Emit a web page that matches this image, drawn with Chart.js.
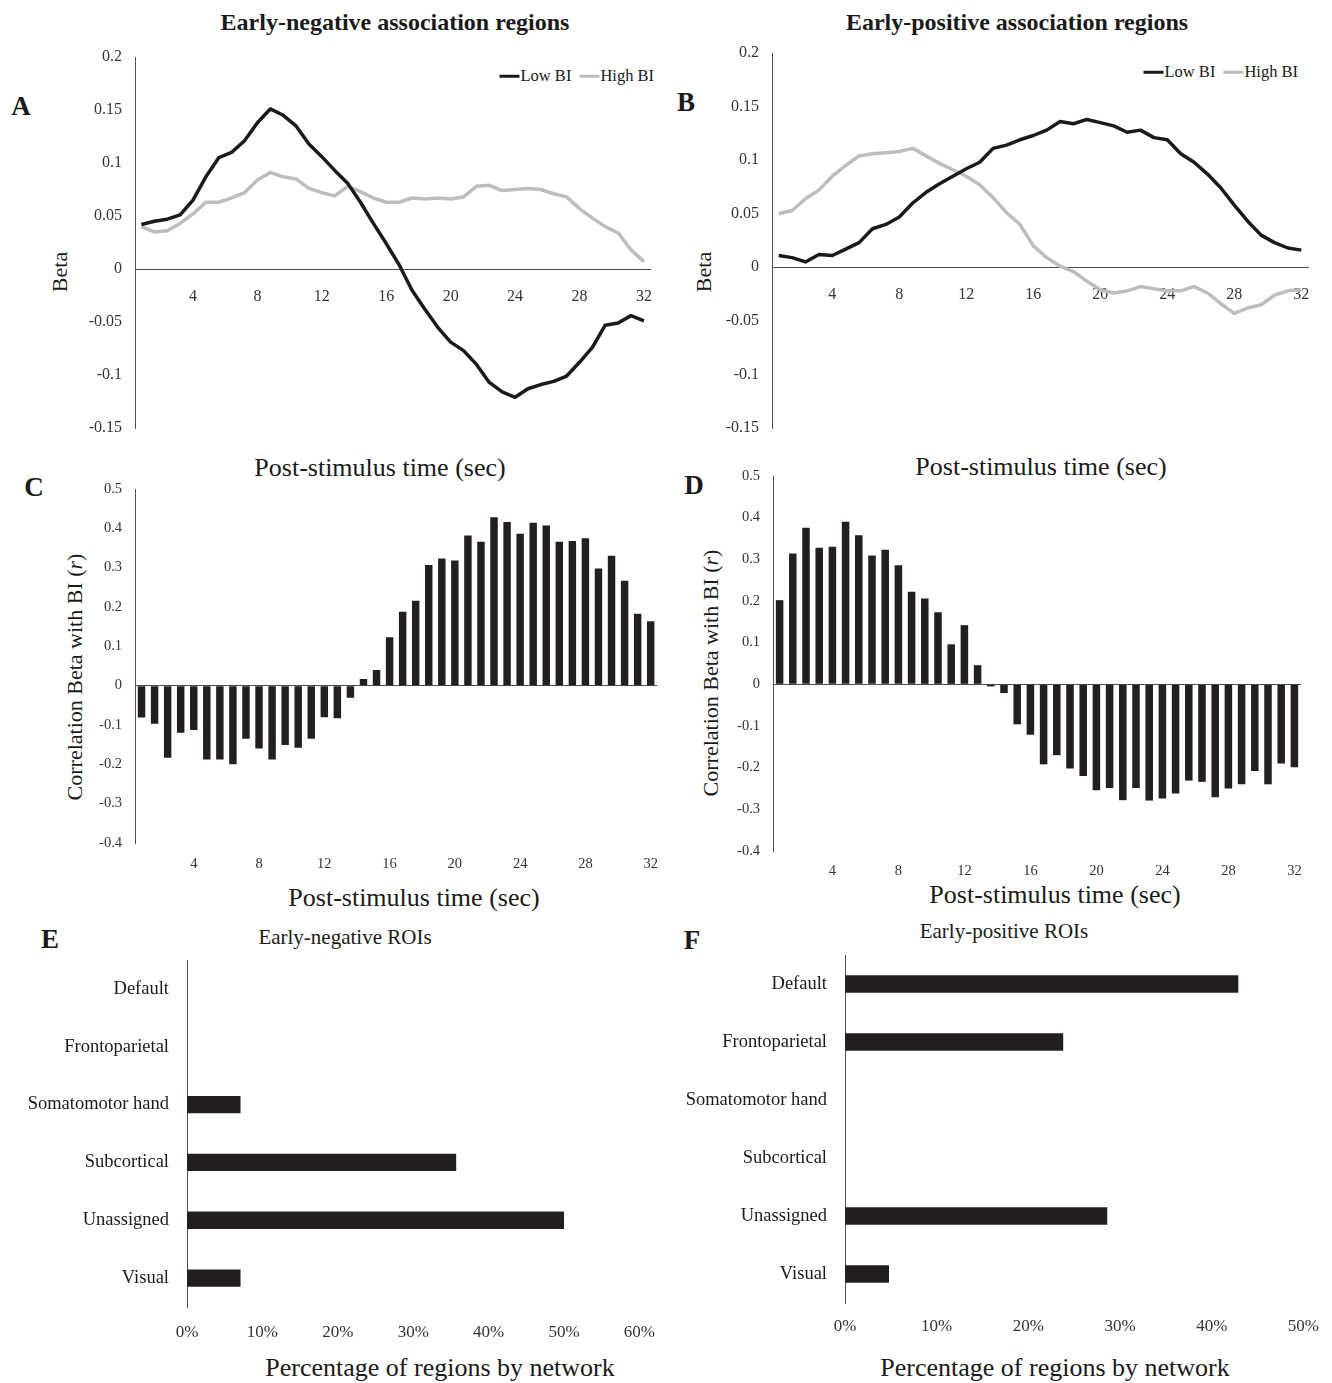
<!DOCTYPE html>
<html>
<head>
<meta charset="utf-8">
<script src="https://cdn.jsdelivr.net/npm/chart.js@4.4.1/dist/chart.umd.min.js"></script>
<style>
body { margin: 0; background: #fff; width: 1332px; height: 1383px; position: relative; overflow: hidden;
       font-family: "Liberation Serif", serif; color: #1a1a1a; }
canvas { position: absolute; }
.t { position: absolute; white-space: nowrap; transform: translate(-50%, -50%); line-height: 1; }
.v { transform: translate(-50%, -50%) rotate(-90deg); }
.b { font-weight: bold; }
.lg { position: absolute; display: flex; align-items: center; font-size: 16.5px; line-height: 1;
      transform: translate(-100%, -50%); white-space: nowrap; }
.lg span { display: inline-block; width: 20px; height: 3.5px; margin-right: 1px; }
</style>
</head>
<body>

<div class="t b" style="left:395px;top:22px;font-size:24px">Early-negative association regions</div>
<div class="t b" style="left:1017px;top:22px;font-size:24px">Early-positive association regions</div>

<div class="t b" style="left:21px;top:106px;font-size:27px">A</div>
<div class="t b" style="left:686px;top:102px;font-size:27px">B</div>
<div class="t b" style="left:34px;top:487px;font-size:27px">C</div>
<div class="t b" style="left:694px;top:485px;font-size:27px">D</div>
<div class="t b" style="left:50px;top:939px;font-size:27px">E</div>
<div class="t b" style="left:692px;top:940px;font-size:27px">F</div>

<div class="t v" style="left:60px;top:272px;font-size:22px">Beta</div>
<div class="t v" style="left:704px;top:272px;font-size:22px">Beta</div>
<div class="t v" style="left:75px;top:677px;font-size:22px">Correlation Beta with BI (<i>r</i>)</div>
<div class="t v" style="left:711px;top:673px;font-size:22px">Correlation Beta with BI (<i>r</i>)</div>

<div class="t" style="left:380px;top:468px;font-size:26px">Post-stimulus time (sec)</div>
<div class="t" style="left:1041px;top:467px;font-size:26px">Post-stimulus time (sec)</div>
<div class="t" style="left:414px;top:898px;font-size:26px">Post-stimulus time (sec)</div>
<div class="t" style="left:1055px;top:895px;font-size:26px">Post-stimulus time (sec)</div>

<div class="t" style="left:345px;top:937px;font-size:21px">Early-negative ROIs</div>
<div class="t" style="left:1004px;top:931px;font-size:21px">Early-positive ROIs</div>
<div class="t" style="left:440px;top:1368px;font-size:26px">Percentage of regions by network</div>
<div class="t" style="left:1055px;top:1368px;font-size:26px">Percentage of regions by network</div>

<div class="lg" style="left:654px;top:76px"><span style="background:#1a1a1a"></span>Low BI<span style="background:#bdbdbd;margin-left:8px"></span>High BI</div>
<div class="lg" style="left:1298px;top:72px"><span style="background:#1a1a1a"></span>Low BI<span style="background:#bdbdbd;margin-left:8px"></span>High BI</div>

<canvas id="chartA" width="670" height="400" style="left:0;top:37px"></canvas>
<canvas id="chartB" width="662" height="400" style="left:670px;top:37px"></canvas>
<canvas id="chartC" width="670" height="400" style="left:0;top:470px"></canvas>
<canvas id="chartD" width="662" height="420" style="left:670px;top:455px"></canvas>
<canvas id="chartE" width="670" height="400" style="left:0;top:950px"></canvas>
<canvas id="chartF" width="662" height="400" style="left:670px;top:945px"></canvas>

<script>
// post-stimulus time of each volume (sec)
var timeLabels = ['0.8', '1.6', '2.4', '3.2', '4', '4.8', '5.6', '6.4', '7.2', '8',
                  '8.8', '9.6', '10.4', '11.2', '12', '12.8', '13.6', '14.4', '15.2', '16',
                  '16.8', '17.6', '18.4', '19.2', '20', '20.8', '21.6', '22.4', '23.2', '24',
                  '24.8', '25.6', '26.4', '27.2', '28', '28.8', '29.6', '30.4', '31.2', '32'];

// A: early-negative regions, beta time courses
var lowBiNeg = [0.042, 0.045, 0.047, 0.051, 0.065, 0.087, 0.105, 0.110, 0.121, 0.138,
                0.151, 0.145, 0.135, 0.118, 0.106, 0.093, 0.081, 0.063, 0.043, 0.024,
                0.004, -0.020, -0.038, -0.055, -0.069, -0.077, -0.090, -0.107, -0.116, -0.121,
                -0.113, -0.109, -0.106, -0.101, -0.088, -0.074, -0.053, -0.051, -0.044, -0.049];
var highBiNeg = [0.040, 0.035, 0.036, 0.043, 0.052, 0.063, 0.063, 0.067, 0.072, 0.084,
                 0.091, 0.087, 0.085, 0.076, 0.072, 0.069, 0.078, 0.073, 0.067, 0.063,
                 0.063, 0.067, 0.066, 0.067, 0.066, 0.068, 0.078, 0.079, 0.074, 0.075,
                 0.076, 0.075, 0.071, 0.068, 0.057, 0.048, 0.040, 0.034, 0.018, 0.007];

// B: early-positive regions
var lowBiPos = [0.011, 0.009, 0.005, 0.012, 0.011, 0.017, 0.023, 0.036, 0.040, 0.047,
                0.060, 0.070, 0.078, 0.085, 0.092, 0.098, 0.111, 0.114, 0.119, 0.123,
                0.128, 0.136, 0.134, 0.138, 0.135, 0.132, 0.126, 0.128, 0.121, 0.119,
                0.106, 0.098, 0.087, 0.074, 0.058, 0.043, 0.030, 0.023, 0.018, 0.016];
var highBiPos = [0.050, 0.053, 0.064, 0.072, 0.085, 0.095, 0.104, 0.106, 0.107, 0.108,
                 0.111, 0.104, 0.097, 0.091, 0.085, 0.077, 0.065, 0.051, 0.040, 0.020,
                 0.009, 0.001, -0.004, -0.013, -0.021, -0.024, -0.022, -0.018, -0.020, -0.022,
                 -0.022, -0.018, -0.024, -0.034, -0.043, -0.038, -0.035, -0.026, -0.022, -0.021];

// C, D: correlation of beta with BI (r)
var corrNeg = [-0.081, -0.097, -0.183, -0.120, -0.113, -0.188, -0.188, -0.200, -0.135, -0.160,
               -0.188, -0.151, -0.158, -0.135, -0.080, -0.083, -0.031, 0.017, 0.040, 0.123,
               0.188, 0.216, 0.307, 0.323, 0.318, 0.382, 0.366, 0.428, 0.416, 0.386,
               0.414, 0.407, 0.366, 0.368, 0.375, 0.298, 0.330, 0.267, 0.183, 0.164];
var corrPos = [0.202, 0.314, 0.376, 0.328, 0.330, 0.390, 0.358, 0.309, 0.323, 0.286,
               0.222, 0.206, 0.173, 0.096, 0.142, 0.046, -0.005, -0.021, -0.096, -0.121,
               -0.192, -0.170, -0.202, -0.220, -0.254, -0.249, -0.278, -0.249, -0.279, -0.274,
               -0.262, -0.231, -0.234, -0.271, -0.250, -0.240, -0.208, -0.240, -0.190, -0.199];

// E, F: percentage of regions by network
var networks = ['Default', 'Frontoparietal', 'Somatomotor hand', 'Subcortical', 'Unassigned', 'Visual'];
var pctNeg = [0, 0, 7.1, 35.7, 50.0, 7.1];
var pctPos = [42.9, 23.8, 0, 0, 28.6, 4.8];

Chart.defaults.font.family = '"Liberation Serif", serif';
Chart.defaults.color = '#333';
Chart.defaults.animation = false;
Chart.defaults.responsive = false;
Chart.defaults.plugins.legend.display = false;
Chart.defaults.plugins.tooltip.enabled = false;

var INK = '#1a1a1a', GREY = '#bdbdbd', BAR = '#231f20';
var noGrid = { display: false, drawTicks: false };
var axisLine = { display: true, color: '#4d4d4d', width: 1 };

// fixed axis sizes so the plot areas land where the original ones are
function fixW(w) { return function (s) { s.width = w; s.paddingTop = 0; s.paddingBottom = 0; }; }
function fixH(h) { return function (s) { s.height = h; }; }
function dec(v) { return String(+v.toFixed(3)); }
function everyFour(v) {
    var t = this.getLabelForValue(v);
    return Number(t) % 4 === 0 ? t : '';
}

function lineChart(id, low, high, g) {
    new Chart(document.getElementById(id), {
        type: 'line',
        data: {
            labels: timeLabels,
            datasets: [
                { label: 'Low BI', data: low, borderColor: INK, borderWidth: 3.5, pointRadius: 0, borderJoinStyle: 'round' },
                { label: 'High BI', data: high, borderColor: GREY, borderWidth: 3.5, pointRadius: 0, borderJoinStyle: 'round' }
            ]
        },
        options: {
            layout: { padding: g.pad },
            scales: {
                x: {
                    offset: true, position: { y: 0 }, grid: noGrid, border: axisLine,
                    ticks: { autoSkip: false, maxRotation: 0, padding: 18, font: { size: 16 }, callback: everyFour }
                },
                y: {
                    min: -0.15, max: 0.2, grid: noGrid, border: axisLine, afterFit: fixW(g.yw),
                    ticks: { stepSize: 0.05, padding: 13, font: { size: 16 }, callback: dec }
                }
            }
        }
    });
}

function corrChart(id, vals, g) {
    new Chart(document.getElementById(id), {
        type: 'bar',
        data: {
            labels: timeLabels,
            datasets: [{ data: vals, backgroundColor: BAR, barPercentage: 0.57, categoryPercentage: 1 }]
        },
        options: {
            layout: { padding: g.pad },
            scales: {
                x: {
                    grid: noGrid, border: { display: false }, afterFit: fixH(g.xh),
                    ticks: { autoSkip: false, maxRotation: 0, padding: g.xp, font: { size: 14.5 }, callback: everyFour }
                },
                y: {
                    min: -0.4, max: 0.5, border: axisLine, afterFit: fixW(g.yw),
                    grid: {
                        drawTicks: false,
                        color: function (c) { return c.tick && Math.abs(c.tick.value) < 1e-9 ? '#4d4d4d' : 'rgba(0,0,0,0)'; }
                    },
                    ticks: { stepSize: 0.1, padding: 13, font: { size: 14.5 }, callback: dec }
                }
            }
        }
    });
}

function netChart(id, vals, max, g) {
    new Chart(document.getElementById(id), {
        type: 'bar',
        data: {
            labels: networks,
            datasets: [{ data: vals, backgroundColor: BAR, barPercentage: 0.3, categoryPercentage: 1 }]
        },
        options: {
            indexAxis: 'y',
            layout: { padding: g.pad },
            scales: {
                x: {
                    min: 0, max: max, grid: noGrid, border: { display: false }, afterFit: fixH(g.xh),
                    ticks: { stepSize: 10, padding: g.xp, font: { size: 17 }, callback: function (v) { return v + '%'; } }
                },
                y: {
                    grid: noGrid, border: axisLine, afterFit: fixW(g.yw),
                    ticks: { padding: 18, font: { size: 18.5 }, color: INK }
                }
            }
        }
    });
}

lineChart('chartA', lowBiNeg, highBiNeg, { pad: { top: 20, right: 6, bottom: 9, left: 0 }, yw: 135 });
lineChart('chartB', lowBiPos, highBiPos, { pad: { top: 16, right: 24, bottom: 9, left: 0 }, yw: 102 });
corrChart('chartC', corrNeg, { pad: { top: 19, right: 4, bottom: 0, left: 0 }, yw: 135, xh: 27, xp: 12 });
corrChart('chartD', corrPos, { pad: { top: 21, right: 31, bottom: 0, left: 0 }, yw: 103, xh: 24, xp: 11 });
netChart('chartE', pctNeg, 60, { pad: { top: 10, right: 25, bottom: 0, left: 0 }, yw: 187, xh: 43, xp: 15 });
netChart('chartF', pctPos, 50, { pad: { top: 10, right: 27, bottom: 0, left: 0 }, yw: 175, xh: 42, xp: 13 });
</script>
</body>
</html>
